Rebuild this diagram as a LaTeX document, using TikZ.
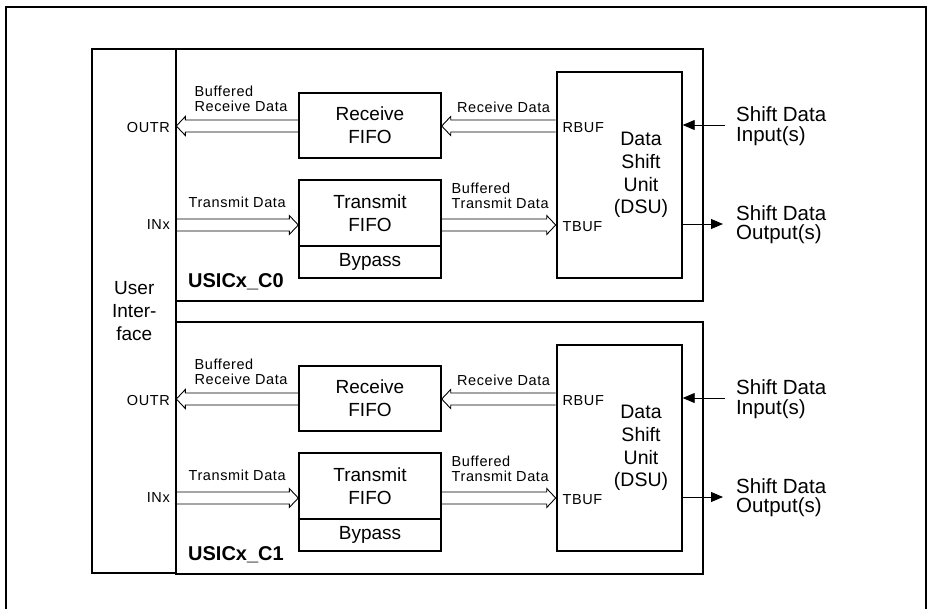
\documentclass[tikz,border=0pt]{standalone}
\usepackage{fontspec}
\setmainfont{Liberation Sans}
\usetikzlibrary{arrows.meta,calc}
\newcommand\fntL{\fontsize{19}{23}\selectfont}
\newcommand\fntS{\fontsize{14.5}{15}\selectfont\addfontfeature{LetterSpace=4}}
\tikzset{
  box/.style={draw, line width=2pt, inner sep=0pt, align=center, font=\fntL},
  lbl/.style={inner sep=0pt, font=\fntS},
  hollowR/.style={line width=0.9pt, to path={let \p1=(\tikztostart), \p2=(\tikztotarget) in
     (\x1,{\y1+6pt}) -- ({\x2-9pt},{\y1+6pt}) -- ({\x2-9pt},{\y1+9.5pt}) -- (\x2,\y1)
     -- ({\x2-9pt},{\y1-9.5pt}) -- ({\x2-9pt},{\y1-6pt}) -- (\x1,{\y1-6pt})}},
  hollowL/.style={line width=0.9pt, to path={let \p1=(\tikztostart), \p2=(\tikztotarget) in
     (\x1,{\y1+6pt}) -- ({\x2+9pt},{\y1+6pt}) -- ({\x2+9pt},{\y1+9.5pt}) -- (\x2,\y1)
     -- ({\x2+9pt},{\y1-9.5pt}) -- ({\x2+9pt},{\y1-6pt}) -- (\x1,{\y1-6pt})}},
  sarrow/.style={line width=0.9pt, -{Triangle[length=12pt,width=10pt]}},
}
\newcommand\usicmod[2]{%
\begin{scope}[shift={(0,#2)}]
  \node[box, minimum width=527, minimum height=251.5] (mod#1) at (439.8,174.9) {};
  \node[box, minimum width=141.4, minimum height=65.6] (rf#1) at (370,125.5) {Receive\\FIFO};
  \node[box, minimum width=141.4, minimum height=66] (tf#1) at (370,213) {Transmit\\FIFO};
  \node[box, minimum width=141.4, minimum height=32.3] (bp#1) at (370,262.2) {Bypass};
  \node[box, minimum width=125, minimum height=206.6] (dsu#1) at (619.2,175) {};
  \node[inner sep=0pt, align=center, font=\fontsize{19.5}{22.7}\selectfont] (dsut#1) at (641,175) {Data\\Shift\\Unit\\(DSU)};
  \coordinate (outr#1) at (176.3,126);
  \coordinate (inx#1) at (176.3,225);
  \coordinate (sin#1) at (725,125);
  \coordinate (sout#1) at (723,224);
  \draw[hollowL] (rf#1.west |- outr#1) to (outr#1);
  \draw[hollowL] (dsu#1.west |- outr#1) to (rf#1.east |- outr#1);
  \draw[hollowR] (inx#1) to (inx#1 -| tf#1.west);
  \draw[hollowR] (tf#1.east |- inx#1) to (dsu#1.west |- inx#1);
  \draw[sarrow] (sin#1) -- (sin#1 -| dsu#1.east);
  \draw[sarrow] (sout#1 -| dsu#1.east) -- (sout#1);
  \node[lbl, align=left, anchor=west] (lbr#1) at (194.5,98.5) {Buffered\\Receive Data};
  \node[lbl, anchor=east] (lou#1) at (170,127.5) {OUTR};
  \node[lbl, anchor=west] (ltd#1) at (188.5,202) {Transmit Data};
  \node[lbl, anchor=east] (lin#1) at (170,225) {INx};
  \node[lbl, anchor=west] (lrd#1) at (457,107) {Receive Data};
  \node[lbl, align=left, anchor=west] (lbt#1) at (451.5,196) {Buffered\\Transmit Data};
  \node[lbl, anchor=west] (lrb#1) at (562.5,128) {RBUF};
  \node[lbl, anchor=west] (ltb#1) at (562.5,227) {TBUF};
  \node[inner sep=0pt, anchor=west, font=\fontsize{20}{22}\selectfont\bfseries] (lus#1) at (188,282) {USICx\_C#1};
  \node[inner sep=0pt, anchor=west, align=left, font=\fontsize{20.5}{19.5}\selectfont] (lsi#1) at (736,126) {Shift Data\\Input(s)};
  \node[inner sep=0pt, anchor=west, align=left, font=\fontsize{20.5}{19.5}\selectfont] (lso#1) at (736,224.5) {Shift Data\\Output(s)};
\end{scope}}
\begin{document}
\begin{tikzpicture}[x=1pt,y=-1pt]
\useasboundingbox (0,0) rectangle (928,608);
\draw[line width=2pt] (5.7,612) -- (5.7,7.3) -- (925.7,7.3) -- (925.7,612);
\usicmod{0}{0}
\usicmod{1}{273}
\node[box, minimum width=84, minimum height=524.3] (ui) at (134.3,311.2) {User\\Inter-\\face};
\end{tikzpicture}
\end{document}
